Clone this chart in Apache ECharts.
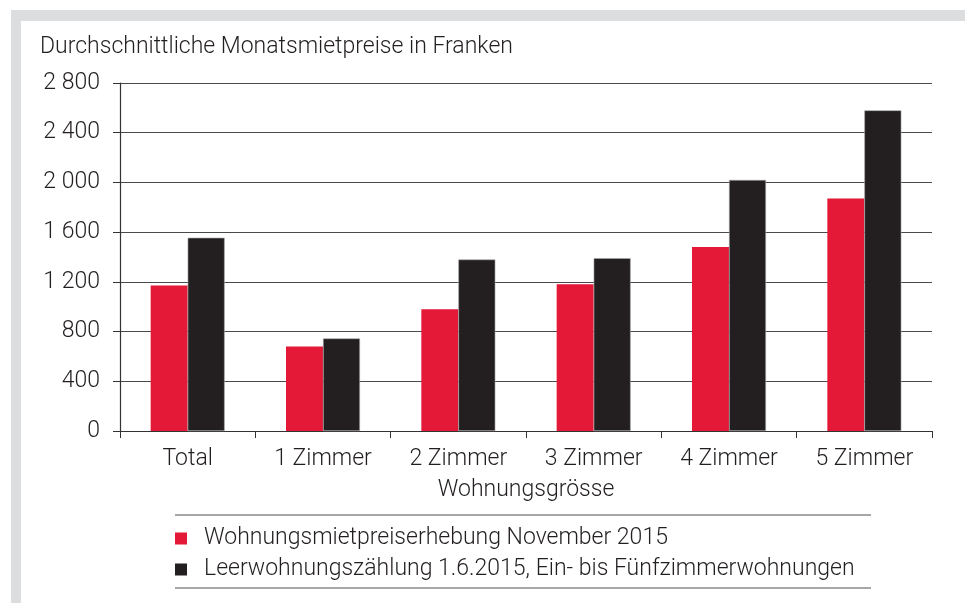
<!DOCTYPE html>
<html>
<head>
<meta charset="utf-8">
<script src="https://cdn.jsdelivr.net/npm/echarts@6/dist/echarts.min.js"></script>
<style>
  html, body { margin: 0; padding: 0; background: #fff; }
  #frame { position: absolute; left: 11px; top: 10px; width: 954px; height: 593px; background: #dcdddf; }
  #main { position: absolute; left: 0; top: 0; width: 965px; height: 606px; }
</style>
</head>
<body>
<div id="frame"><div style="position:absolute;left:10px;top:11px;right:0;bottom:0;background:#fff"></div></div>
<div id="main"></div>
<script>
// Wohnungsgrösse
const categories = ['Total', '1 Zimmer', '2 Zimmer', '3 Zimmer', '4 Zimmer', '5 Zimmer']
// Wohnungsmietpreiserhebung November 2015
const mietpreiserhebung = [1170, 680, 980, 1180, 1480, 1870]
// Leerwohnungszählung 1.6.2015
const leerwohnung = [1555, 745, 1380, 1390, 2020, 2580]
const seriesNames = [
  'Wohnungsmietpreiserhebung November 2015',
  'Leerwohnungszählung 1.6.2015, Ein- bis Fünfzimmerwohnungen'
]

const FONT = 'Roboto'
const FS = 23
const TXT = '#231f20'

let chart = echarts.init(document.getElementById('main'), null, { renderer: 'canvas' })
let option = {
  backgroundColor: 'transparent',
  textStyle: { fontFamily: FONT, fontWeight: 300, color: TXT },
  title: {
    text: 'Durchschnittliche Monatsmietpreise in Franken',
    left: 35,
    top: 31,
    textStyle: { fontFamily: FONT, fontWeight: 300, fontSize: FS, color: TXT }
  },
  legend: {
    orient: 'vertical',
    left: 170,
    top: 522,
    itemWidth: 12,
    itemHeight: 12,
    itemGap: 8,
    icon: 'rect',
    itemStyle: { borderWidth: 0 },
    textStyle: { fontFamily: FONT, fontWeight: 300, fontSize: FS, color: TXT, padding: [0, 0, 0, 12] },
    data: seriesNames
  },
  grid: { left: 120, right: 33, top: 83, bottom: 175 },
  xAxis: {
    type: 'category',
    data: categories,
    name: 'Wohnungsgrösse',
    nameLocation: 'middle',
    nameGap: 48,
    nameTextStyle: { fontFamily: FONT, fontWeight: 300, fontSize: FS, color: TXT },
    axisLine: { lineStyle: { color: '#333', width: 1.2 } },
    axisTick: { show: true, length: 7, lineStyle: { color: '#333' } },
    axisLabel: { margin: 17, fontFamily: FONT, fontWeight: 300, fontSize: FS, color: TXT }
  },
  yAxis: {
    type: 'value',
    min: 0,
    max: 2800,
    interval: 400,
    axisLine: { show: true, lineStyle: { color: '#333', width: 1.2 } },
    axisTick: { show: true, length: 7, lineStyle: { color: '#333' } },
    splitLine: { lineStyle: { color: '#4a4a4a', width: 1.2 } },
    axisLabel: {
      margin: 20,
      fontFamily: FONT,
      fontWeight: 300,
      fontSize: FS,
      color: TXT,
      formatter: v => String(v).replace(/\B(?=(\d{3})+(?!\d))/g, ' ')
    }
  },
  graphic: [
    { type: 'line', shape: { x1: 175, y1: 515, x2: 871, y2: 515 }, style: { stroke: '#8a8a8a', lineWidth: 1.5 } },
    { type: 'line', shape: { x1: 175, y1: 588, x2: 871, y2: 588 }, style: { stroke: '#8a8a8a', lineWidth: 1.5 } }
  ],
  series: [
    {
      name: seriesNames[0],
      type: 'bar',
      data: mietpreiserhebung,
      barWidth: 37,
      barGap: '0%',
      itemStyle: { color: '#e31937' }
    },
    {
      name: seriesNames[1],
      type: 'bar',
      data: leerwohnung,
      barWidth: 37,
      itemStyle: { color: '#231f20', borderColor: '#aaa', borderWidth: 0.6 }
    }
  ]
}
chart.setOption(option)
</script>
</body>
</html>
